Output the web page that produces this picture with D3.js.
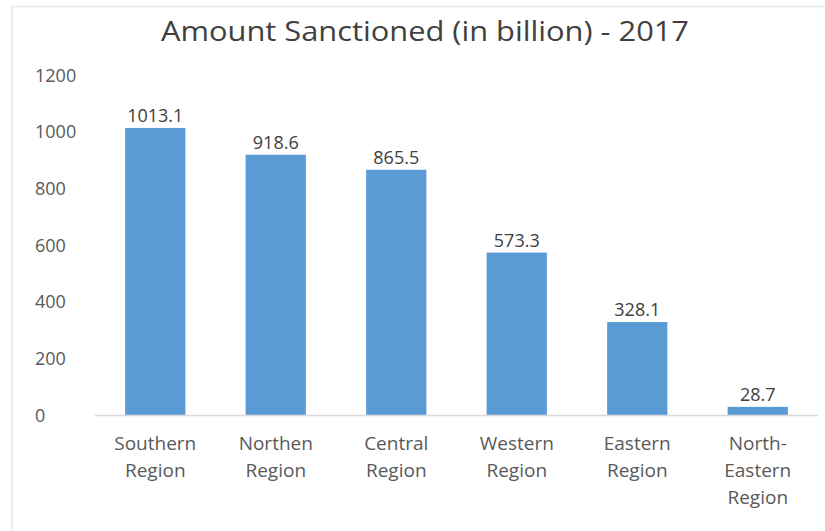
<!DOCTYPE html>
<html>
<head>
<meta charset="utf-8">
<script src="https://cdn.jsdelivr.net/npm/d3@7"></script>
<style>
  body { margin: 0; background: #fff; }
  svg { display: block; }
  text { font-family: "Open Sans", "Noto Sans", sans-serif; }
</style>
</head>
<body>
<svg id="chart" width="825" height="531"></svg>
<script>
"use strict";
// data
const regions = [["Southern", "Region"], ["Northen", "Region"], ["Central", "Region"],
  ["Western", "Region"], ["Eastern", "Region"], ["North-", "Eastern", "Region"]];
const amounts = [1013.1, 918.6, 865.5, 573.3, 328.1, 28.7];
const yTicks = [0, 200, 400, 600, 800, 1000, 1200];
const title = "Amount Sanctioned (in billion) - 2017";

const svg = d3.select("#chart");
const W = 825, H = 531;
const plot = { left: 95, right: 818, top: 75, bottom: 415 };

// faint frame, only top and left visible
svg.append("line").attr("x1", 12).attr("y1", 6.5).attr("x2", W).attr("y2", 6.5)
  .attr("stroke", "#e6e6e6").attr("stroke-width", 1.5);
svg.append("line").attr("x1", 12).attr("y1", 6).attr("x2", 12).attr("y2", H)
  .attr("stroke", "#e6e6e6").attr("stroke-width", 1.5);

const x = d3.scaleBand()
  .domain(d3.range(amounts.length))
  .range([plot.left, plot.right])
  .paddingInner(0.5)
  .paddingOuter(0.25);

const y = d3.scaleLinear()
  .domain([0, 1200])
  .range([plot.bottom, plot.top]);

svg.append("text")
  .attr("x", 425).attr("y", 41)
  .attr("text-anchor", "middle")
  .attr("font-size", 27)
  .attr("fill", "#404040")
  .attr("textLength", 528)
  .attr("lengthAdjust", "spacingAndGlyphs")
  .text(title);

// y axis labels, left aligned
const yAxis = d3.axisLeft(y).tickValues(yTicks).tickFormat(d3.format("d"))
  .tickSize(0).tickPadding(0);
const gy = svg.append("g").attr("transform", "translate(35,0)").call(yAxis);
gy.select(".domain").remove();
gy.selectAll("text")
  .attr("text-anchor", "start")
  .attr("x", 0)
  .attr("dy", "0.35em")
  .attr("font-size", 18)
  .attr("font-family", "\"Open Sans\", sans-serif")
  .attr("fill", "#595959");

svg.append("g").selectAll("rect")
  .data(amounts)
  .join("rect")
  .attr("x", (d, i) => x(i))
  .attr("width", x.bandwidth())
  .attr("y", d => y(d))
  .attr("height", d => y(0) - y(d))
  .attr("fill", "#5b9bd5");

svg.append("line")
  .attr("x1", plot.left).attr("x2", plot.right)
  .attr("y1", y(0) + 0.5).attr("y2", y(0) + 0.5)
  .attr("stroke", "#d9d9d9").attr("stroke-width", 1.5);

svg.append("g").selectAll("text")
  .data(amounts)
  .join("text")
  .attr("x", (d, i) => x(i) + x.bandwidth() / 2)
  .attr("y", d => y(d) - 6)
  .attr("text-anchor", "middle")
  .attr("font-size", 18)
  .attr("fill", "#404040")
  .text(d => d.toFixed(1));

const cat = svg.append("g").selectAll("text")
  .data(regions)
  .join("text")
  .attr("x", (d, i) => x(i) + x.bandwidth() / 2)
  .attr("y", 450)
  .attr("text-anchor", "middle")
  .attr("font-size", 19)
  .attr("fill", "#595959");
cat.selectAll("tspan")
  .data(d => d)
  .join("tspan")
  .attr("x", function () { return d3.select(this.parentNode).attr("x"); })
  .attr("dy", (d, i) => i === 0 ? 0 : 27)
  .text(d => d);
</script>
</body>
</html>
